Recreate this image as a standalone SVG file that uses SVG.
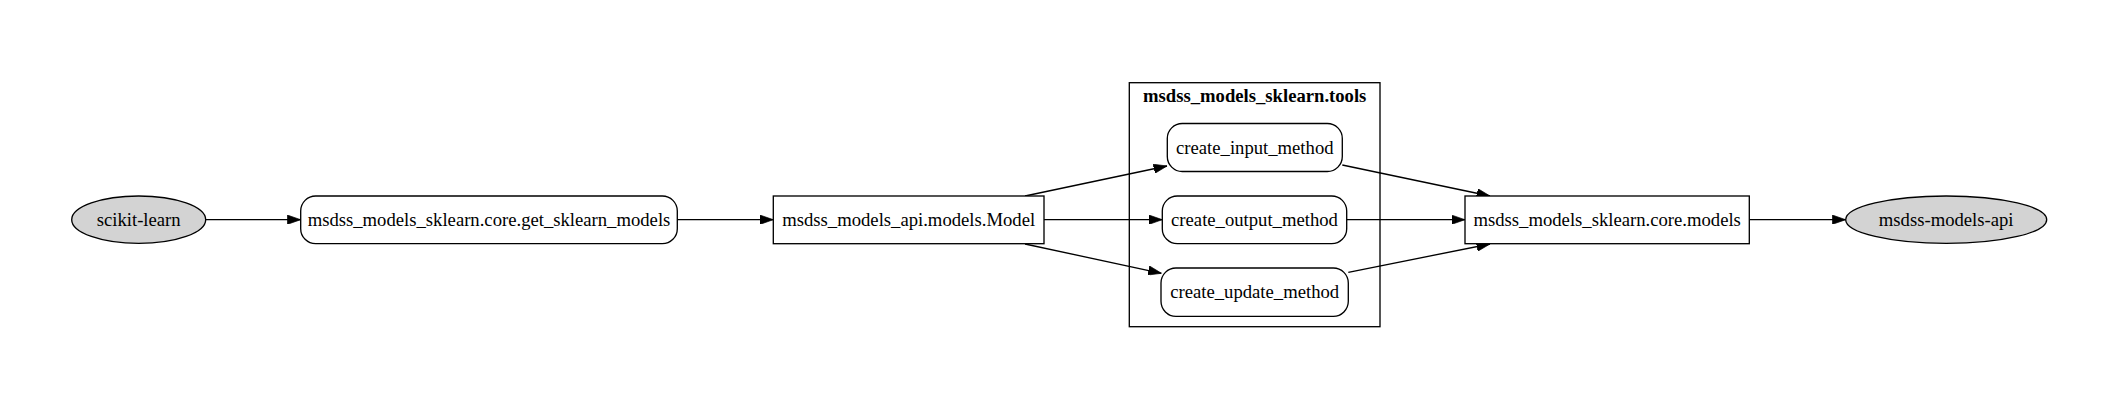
<svg xmlns="http://www.w3.org/2000/svg" width="2119" height="409" viewBox="0 0 2119 409">
<style>
.n{fill:#fff;stroke:#000;stroke-width:1.33}
.g{fill:#d3d3d3;stroke:#000;stroke-width:1.33}
.t{font-family:"Liberation Serif","Times New Roman",serif;font-size:18.67px;text-anchor:middle;fill:#000}
.b{font-weight:bold}
.e{fill:none;stroke:#000;stroke-width:1.33;marker-end:url(#a)}
.c{fill:none;stroke:#000;stroke-width:1.33}
</style>
<defs>
<marker id="a" viewBox="0 0 10 7" refX="10" refY="3.5" markerWidth="13.33" markerHeight="9.33" markerUnits="userSpaceOnUse" orient="auto">
<path d="M0,0 L10,3.5 L0,7 z" fill="#000" stroke="#000" stroke-width="0.5"/>
</marker>
</defs>
<rect width="2119" height="409" fill="#fff"/>
<g id="cluster_tools">
<rect class="c" x="1129.3" y="82.7" width="250.7" height="244"/>
<text class="t b" x="1254.7" y="101.7">msdss_models_sklearn.tools</text>
</g>
<g id="connectors">
<line class="e" x1="205.7" y1="219.7" x2="300.7" y2="219.7"/>
<line class="e" x1="677.3" y1="219.7" x2="773.3" y2="219.7"/>
<line class="e" x1="1025" y1="196" x2="1167" y2="166"/>
<line class="e" x1="1044" y1="219.7" x2="1162.3" y2="219.7"/>
<line class="e" x1="1025" y1="244" x2="1161.5" y2="273.3"/>
<line class="e" x1="1342.3" y1="165" x2="1490" y2="196"/>
<line class="e" x1="1346.7" y1="219.7" x2="1465" y2="219.7"/>
<line class="e" x1="1348.3" y1="272.3" x2="1490" y2="244"/>
<line class="e" x1="1749.3" y1="219.7" x2="1845.7" y2="219.7"/>
</g>
<g id="scikit-learn">
<ellipse class="g" cx="138.7" cy="219.7" rx="67" ry="23.7"/>
<text class="t" x="138.7" y="225.7">scikit-learn</text>
</g>
<g id="get_sklearn_models">
<rect class="n" x="300.7" y="196" width="376.6" height="47.7" rx="15" ry="15"/>
<text class="t" x="489" y="225.7">msdss_models_sklearn.core.get_sklearn_models</text>
</g>
<g id="model">
<rect class="n" x="773.3" y="196" width="270.7" height="47.7"/>
<text class="t" x="908.7" y="225.7">msdss_models_api.models.Model</text>
</g>
<g id="create_input_method">
<rect class="n" x="1167.3" y="123.5" width="175" height="48" rx="15" ry="15"/>
<text class="t" x="1254.8" y="153.5">create_input_method</text>
</g>
<g id="create_output_method">
<rect class="n" x="1162.3" y="196" width="184.4" height="47.7" rx="15" ry="15"/>
<text class="t" x="1254.5" y="225.7">create_output_method</text>
</g>
<g id="create_update_method">
<rect class="n" x="1161" y="268" width="187.3" height="48.3" rx="15" ry="15"/>
<text class="t" x="1254.7" y="298">create_update_method</text>
</g>
<g id="core_models">
<rect class="n" x="1465" y="196" width="284.3" height="47.7"/>
<text class="t" x="1607.2" y="225.7">msdss_models_sklearn.core.models</text>
</g>
<g id="msdss-models-api">
<ellipse class="g" cx="1946.2" cy="219.7" rx="100.5" ry="23.7"/>
<text class="t" x="1946.2" y="225.7">msdss-models-api</text>
</g>
</svg>
